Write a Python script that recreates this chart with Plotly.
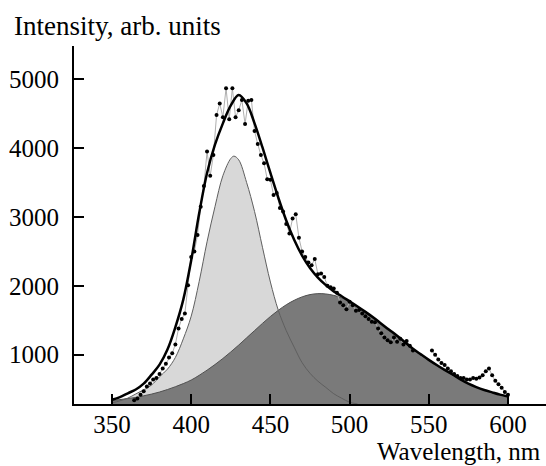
import plotly.graph_objects as go

# ---- data ----
fit_x = [350, 355, 360, 365, 370, 375, 380, 385, 390, 395, 400, 405, 410, 415, 420, 425, 430,
         435, 440, 445, 450, 455, 460, 465, 470, 475, 480, 485, 490, 495, 500, 505, 510, 515,
         520, 525, 530, 535, 540, 545, 550, 555, 560, 565, 570, 575, 580, 585, 590, 595, 600]
fit_y = [345, 383, 440, 495, 580, 710, 855, 1075, 1401, 1800, 2372, 3050, 3640, 4050, 4360, 4620, 4772,
         4650, 4360, 4010, 3640, 3280, 2950, 2670, 2440, 2260, 2120, 2010, 1920, 1850, 1775, 1700, 1622, 1540,
         1450, 1362, 1275, 1182, 1087, 1005, 925, 850, 780, 712, 642, 580, 530, 488, 453, 420, 393]

light_x = [350, 355, 360, 365, 370, 375, 380, 385, 390, 395, 400, 405, 410, 415, 420, 425, 427,
           430, 435, 440, 445, 450, 455, 460, 465, 470, 475, 480, 485, 490, 495, 500, 505]
light_y = [300, 330, 370, 430, 490, 560, 680, 790, 960, 1230, 1560, 2060, 2640, 3150, 3600, 3850, 3884,
           3830, 3500, 3080, 2560, 2055, 1645, 1350, 1110, 885, 730, 615, 525, 433, 368, 310, 285]

dark_x = [350, 355, 360, 365, 370, 375, 380, 385, 390, 395, 400, 405, 410, 415, 420, 425, 430,
          435, 440, 445, 450, 455, 460, 465, 470, 475, 480, 485, 490, 495, 500, 505, 510, 515,
          520, 525, 530, 535, 540, 545, 550, 555, 560, 565, 570, 575, 580, 585, 590, 595, 600]
dark_y = [335, 348, 363, 380, 403, 428, 458, 494, 535, 580, 632, 700, 775, 857, 945, 1040, 1140,
          1245, 1350, 1455, 1555, 1645, 1725, 1790, 1840, 1873, 1887, 1882, 1862, 1826, 1765, 1692, 1612, 1522,
          1432, 1342, 1257, 1167, 1077, 995, 915, 840, 770, 705, 637, 577, 527, 484, 448, 416, 388]

data_x = [364, 366, 368, 370, 372, 374, 376, 378, 380, 382, 384, 386, 388, 390, 392, 394, 396, 398,
          400, 402, 404, 406, 408, 410, 412, 414, 416, 418, 420, 422, 424, 426, 428, 430, 432, 434,
          436, 438, 440, 442, 444, 446, 448, 450, 452, 454, 456, 458, 460, 462, 464, 466, 468, 470,
          472, 474, 476, 478, 480, 482, 484, 486, 488, 490, 492, 494, 496, 498, 500, 502, 504, 506,
          508, 510, 512, 514, 516, 518, 520, 522, 524, 526, 528, 530, 532, 534, 536, 538, 540,
          546, 552, 554, 556, 558, 560, 562, 564, 566, 568, 570, 572, 574, 576, 578, 580, 582,
          584, 586, 588, 590, 592, 594, 596, 598, 600]
data_y = [340, 365, 420, 470, 540, 580, 640, 660, 720, 800, 870, 960, 1020, 1150, 1380, 1520, 1600, 2010,
          2420, 2500, 2740, 3150, 3450, 3950, 3600, 3900, 4480, 4650, 4450, 4870, 4420, 4870, 4450, 4550, 4700, 4350,
          4690, 4700, 4250, 4060, 3900, 3780, 3550, 3540, 3320, 3350, 3130, 3080, 2900, 2760, 2980, 3040, 2700, 2500,
          2420, 2340, 2300, 2390, 2170, 2180, 2130, 2000, 1980, 1960, 1900, 1760, 1720, 1660, 1770, 1720, 1640, 1650,
          1600, 1560, 1520, 1480, 1470, 1380, 1310, 1250, 1210, 1180, 1250, 1190, 1230, 1150, 1200, 1130, 1060,
          None, 1060, 1000, 930, 880, 850, 800, 760, 720, 690, 660, 660, 640, 640, 660, 650, 670,
          700, 760, 800, 700, 620, 570, 520, 460, 420]

x_ticks = [350, 400, 450, 500, 550, 600]
y_ticks = [1000, 2000, 3000, 4000, 5000]

FONT = "Liberation Serif, Tinos, 'Times New Roman', 'DejaVu Serif', serif"

fig = go.Figure()
# light gray component (fill)
fig.add_trace(go.Scatter(x=light_x, y=light_y, mode="lines", fill="tozeroy",
                         fillcolor="rgb(216,216,216)", line=dict(color="rgba(0,0,0,0)", width=0, shape="spline"),
                         hoverinfo="skip", showlegend=False))
# dark gray component (fill)
fig.add_trace(go.Scatter(x=dark_x, y=dark_y, mode="lines", fill="tozeroy",
                         fillcolor="rgb(122,122,122)", line=dict(color="rgb(80,80,80)", width=1, shape="spline"),
                         hoverinfo="skip", showlegend=False))
# light component outline drawn on top
fig.add_trace(go.Scatter(x=light_x, y=light_y, mode="lines",
                         line=dict(color="rgb(95,95,95)", width=1, shape="spline"),
                         hoverinfo="skip", showlegend=False))
# measured data
fig.add_trace(go.Scatter(x=data_x, y=data_y, mode="lines+markers",
                         line=dict(color="rgb(175,175,175)", width=1),
                         marker=dict(color="black", size=4),
                         connectgaps=False, showlegend=False))
# fit
fig.add_trace(go.Scatter(x=fit_x, y=fit_y, mode="lines",
                         line=dict(color="black", width=2.5, shape="spline"),
                         showlegend=False))

fig.update_layout(
    width=546, height=466,
    margin=dict(l=74, r=0, t=46, b=62),
    paper_bgcolor="white", plot_bgcolor="white",
    font=dict(family=FONT, size=25, color="black"),
    xaxis=dict(range=[326, 624], tickvals=x_ticks, ticks="inside", ticklen=10, tickwidth=2,
               tickcolor="black", showline=True, linecolor="black", linewidth=2,
               showgrid=False, zeroline=False, ticklabelstandoff=-3),
    yaxis=dict(range=[284, 5484], tickvals=y_ticks, ticks="inside", ticklen=10, tickwidth=2,
               tickcolor="black", showline=True, linecolor="black", linewidth=2,
               showgrid=False, zeroline=False, ticklabelstandoff=8),
    annotations=[
        dict(text="Intensity, arb. units", xref="paper", yref="paper", x=-0.131, y=1.056,
             xanchor="left", yanchor="middle", showarrow=False, font=dict(family=FONT, size=27)),
        dict(text="Wavelength, nm", xref="paper", yref="paper", x=0.9936, y=-0.134,
             xanchor="right", yanchor="middle", showarrow=False, font=dict(family=FONT, size=25)),
    ],
)

fig.write_html("out.html")
